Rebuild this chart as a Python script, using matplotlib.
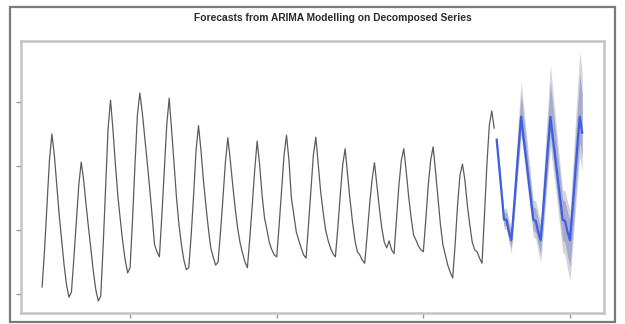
import numpy as np
import matplotlib
matplotlib.use("Agg")
import matplotlib.pyplot as plt
from matplotlib.patches import Rectangle

# observed monthly series, Jan 1997 - Jun 2012 (one row per year)
obs_start = 1997
observed = [
    11.1, 16.9, 23.9, 30.9, 35.0, 31.7, 27.0, 22.3, 18.4, 14.5, 11.4, 9.5,    # 1997
    10.3, 15.6, 21.3, 27.0, 30.6, 27.8, 23.9, 20.3, 16.9, 13.4, 10.6, 8.9,    # 1998
    9.7, 17.7, 27.0, 35.9, 40.3, 35.6, 30.2, 25.3, 21.6, 18.1, 15.3, 13.3,    # 1999
    14.1, 21.6, 30.2, 38.0, 41.4, 38.3, 34.5, 30.6, 26.6, 22.3, 17.7, 16.6,   # 2000
    15.8, 22.3, 29.4, 36.4, 40.6, 35.6, 30.2, 25.0, 20.8, 17.7, 15.3, 13.8,   # 2001
    14.1, 19.2, 25.5, 32.5, 36.3, 32.5, 27.8, 23.9, 20.3, 17.2, 15.8, 14.5,   # 2002
    15.0, 19.7, 25.0, 30.6, 34.4, 30.9, 27.0, 23.4, 20.3, 18.0, 16.4, 15.0,   # 2003
    14.1, 18.8, 23.9, 29.4, 33.9, 30.2, 25.5, 21.9, 20.0, 18.0, 16.9, 16.1,   # 2004
    15.8, 20.8, 26.3, 31.7, 34.8, 30.9, 25.0, 22.3, 19.7, 18.4, 17.2, 16.1,   # 2005
    15.6, 20.8, 26.3, 31.7, 34.5, 30.2, 25.9, 22.8, 20.0, 18.4, 17.2, 16.3,   # 2006
    15.8, 20.3, 25.5, 30.2, 32.7, 28.6, 24.7, 21.3, 18.4, 16.6, 16.1, 15.3,   # 2007
    14.8, 19.2, 23.9, 27.8, 30.5, 27.0, 23.4, 20.3, 18.1, 17.2, 18.3, 16.9,   # 2008
    16.3, 21.6, 27.0, 30.9, 32.7, 29.1, 25.2, 21.9, 19.2, 18.4, 17.5, 16.9,   # 2009
    16.6, 21.6, 27.0, 30.9, 33.0, 29.1, 25.0, 20.8, 17.7, 16.1, 14.5, 13.4,   # 2010
    12.5, 17.7, 23.9, 28.6, 30.3, 27.8, 23.9, 20.8, 18.1, 16.9, 16.6, 15.6,   # 2011
    14.8, 22.3, 30.2, 36.4, 38.6, 35.9,                                       # 2012
]

# point forecasts, Jul 2012 - Jun 2015
forecast = [
    34.1, 30.0, 25.8, 21.6, 21.6, 19.7,
    18.4, 23.1, 28.1, 33.0, 37.7, 34.4, 31.3, 28.0, 24.8, 21.6, 21.4, 19.7,
    18.4, 23.1, 28.1, 33.0, 37.7, 34.4, 31.3, 28.0, 24.8, 21.6, 21.4, 19.7,
    18.4, 23.1, 28.1, 33.0, 37.7, 35.2,
]

# interval distances from the point forecast
up95 = [0.8, 1.1, 1.4, 1.6, 1.9, 1.9, 2.0, 2.8, 3.8, 4.7, 5.5, 5.0,
        4.4, 3.9, 3.4, 3.1, 3.1, 3.1, 3.1, 4.4, 5.6, 6.9, 8.1, 7.3,
        6.6, 5.8, 5.2, 4.7, 4.7, 4.7, 4.7, 5.9, 7.3, 8.8, 10.2, 9.4]
lo95 = [0.6, 0.8, 1.1, 1.4, 1.6, 1.7, 2.0, 2.2, 2.5, 2.8, 3.1, 3.0,
        2.8, 2.7, 2.7, 2.7, 2.8, 3.1, 3.4, 3.8, 4.1, 4.4, 4.7, 4.7,
        4.7, 4.7, 4.8, 5.0, 5.3, 5.8, 6.3, 6.3, 6.3, 6.3, 6.3, 5.9]
up80 = [0.5, 0.7, 0.9, 1.0, 1.2, 1.2, 1.3, 1.8, 2.5, 3.1, 3.6, 3.3,
        2.9, 2.5, 2.2, 2.0, 2.0, 2.0, 2.0, 2.9, 3.6, 4.5, 5.3, 4.8,
        4.3, 3.8, 3.4, 3.1, 3.1, 3.1, 3.1, 3.8, 4.8, 5.7, 6.6, 6.1]
lo80 = [0.4, 0.5, 0.7, 0.9, 1.0, 1.1, 1.3, 1.4, 1.6, 1.8, 2.0, 1.9,
        1.8, 1.7, 1.7, 1.7, 1.8, 2.0, 2.2, 2.5, 2.7, 2.9, 3.0, 3.0,
        3.0, 3.0, 3.1, 3.2, 3.4, 3.8, 4.1, 4.1, 4.1, 4.1, 4.1, 3.8]

x_ticks = [2000, 2005, 2010, 2015]
y_ticks = [10, 20, 30, 40]

observed = np.array(observed)
forecast = np.array(forecast)
t_obs = obs_start + np.arange(len(observed)) / 12
t_fc = t_obs[-1] + (np.arange(len(forecast)) + 1) / 12

fig = plt.figure(figsize=(6.25, 3.24), dpi=100)

# screenshot frame
fig.patches.append(Rectangle((0.016, 0.006), 0.968, 0.972, transform=fig.transFigure,
                             fill=False, edgecolor='#7a7a7a', linewidth=1.6))

ax = fig.add_axes([0.0336, 0.034, 0.9328, 0.8395])
ax.fill_between(t_fc, forecast - np.array(lo95), forecast + np.array(up95),
                color='#d4d4da', linewidth=0)
ax.fill_between(t_fc, forecast - np.array(lo80), forecast + np.array(up80),
                color='#a6abd0', linewidth=0)
ax.plot(t_obs, observed, color='#5c5c5c', linewidth=0.9)
ax.plot(t_fc, forecast, color='#3d5fe0', linewidth=1.6)

ax.set_xlim(1996.28, 2016.16)
ax.set_ylim(7.03, 49.53)
ax.set_xticks(x_ticks)
ax.set_yticks(y_ticks)
ax.set_xticklabels([])
ax.set_yticklabels([])
ax.tick_params(length=3.5, width=1.0, color='#9a9a9a')
for s in ax.spines.values():
    s.set_color('#c4c4c4')
    s.set_linewidth(1.8)

fig.text(0.533, 0.944, 'Forecasts from ARIMA Modelling on Decomposed Series',
         ha='center', va='center', fontsize=7.4, fontweight='bold',
         family='Liberation Sans', color='#2a2a2a')

fig.savefig('out.png', dpi=100)
